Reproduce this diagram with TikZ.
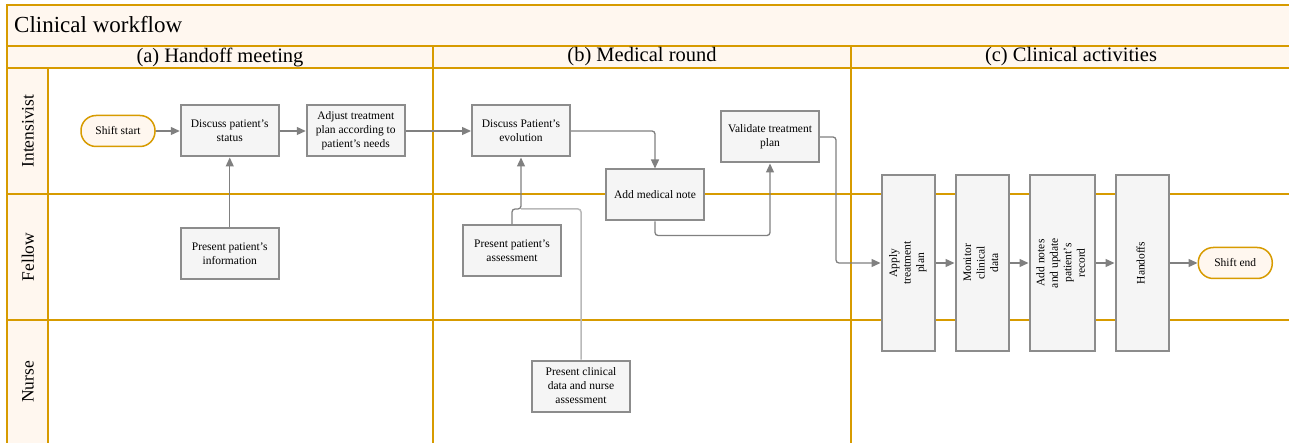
\documentclass[tikz,border=0pt]{standalone}
\usepackage{fontspec}
\setmainfont{Liberation Serif}
\usetikzlibrary{arrows.meta,positioning,calc}

\definecolor{lanegold}{RGB}{215,155,0}
\definecolor{lanefill}{RGB}{255,247,239}
\definecolor{boxfill}{RGB}{245,245,245}
\definecolor{boxline}{RGB}{140,140,140}
\definecolor{flowgray}{RGB}{128,128,128}
\definecolor{flowlight}{RGB}{185,185,185}

\newcommand{\vlabel}[1]{\rotatebox{90}{\begin{tabular}{@{}c@{}}#1\end{tabular}}}

\begin{document}
\begin{tikzpicture}[x=1pt, y=-1pt, node distance=24pt]
\tikzstyle{task} = [rectangle, draw=boxline, fill=boxfill, line width=2pt, align=center, minimum width=98pt, minimum height=51pt, inner sep=2pt, font=\fontsize{11.5}{14}\selectfont]
\tikzstyle{vtask} = [task, minimum width=53pt, minimum height=176pt, font=\fontsize{11.5}{13.5}\selectfont]
\tikzstyle{terminal} = [rectangle, rounded corners=15pt, draw=lanegold, fill=lanefill, line width=1.5pt, minimum width=74pt, minimum height=31pt, font=\fontsize{11.5}{14}\selectfont]
\tikzstyle{line} = [draw=flowgray, line width=1.3pt, -{Triangle[length=9pt,width=8pt]}, rounded corners=3pt]
\tikzstyle{lane} = [draw=lanegold, line width=2.5pt]
\tikzstyle{lanetext} = [inner sep=0pt, font=\fontsize{17.5}{20}\selectfont]
\tikzstyle{phase} = [inner sep=0pt, font=\fontsize{20.5}{22}\selectfont]

\useasboundingbox (0,0) rectangle (1289,443);

% Pool and lanes
\fill[lanefill] (7,5) rectangle (1289,68);
\fill[lanefill] (7,68) rectangle (48,445);
\foreach \y in {5,46,68,194,320} \draw[lane] (7,\y) -- (1290,\y);
\draw[lane] (7,4) -- (7,445);
\draw[lane] (48,68) -- (48,445);
\foreach \x in {433,851} \draw[lane] (\x,46) -- (\x,445);

\node[anchor=west, inner sep=0pt, font=\fontsize{23}{26}\selectfont] (title) at (14,25) {Clinical workflow};
\node[phase] (phaseA) at (220,57) {(a) Handoff meeting};
\node[phase] (phaseB) at (642,57) {(b) Medical round};
\node[phase] (phaseC) at (1071,57) {(c) Clinical activities};
\node[lanetext, rotate=90] (laneIntensivist) at (28,131) {Intensivist};
\node[lanetext, rotate=90] (laneFellow) at (28,257) {Fellow};
\node[lanetext, rotate=90] (laneNurse) at (28,382) {Nurse};

% (a) Handoff meeting
\node[terminal] (shiftStart) at (118,131) {Shift start};
\node[task, right=24pt of shiftStart] (discussStatus) {Discuss patient's\\status};
\node[task, right=26pt of discussStatus] (adjustPlan) {Adjust treatment\\plan according to\\patient's needs};
\node[task, below=70pt of discussStatus] (presentInfo) {Present patient's\\information};

% (b) Medical round
\node[task] (discussEvol) at (521,131) {Discuss Patient's\\evolution};
\node[task] (medNote) at (655,195) {Add medical note};
\node[task] (validPlan) at (770,137) {Validate treatment\\plan};
\node[task] (presentAssess) at (512,251) {Present patient's\\assessment};
\node[task] (presentNurse) at (581,386) {Present clinical\\data and nurse\\assessment};
\coordinate (merge) at (521,209);

% (c) Clinical activities
\node[vtask] (applyPlan) at (908,263) {\vlabel{Apply\\treatment\\plan}};
\node[vtask, right=19pt of applyPlan] (monitorData) {\vlabel{Monitor\\clinical\\data}};
\node[vtask, minimum width=65pt, right=19pt of monitorData] (updateRecord) {\vlabel{Add notes\\and update\\patient's\\record}};
\node[vtask, right=19pt of updateRecord] (handoffs) {\vlabel{Handoffs}};
\node[terminal, right=28pt of handoffs] (shiftEnd) {Shift end};

% Connections
\draw[line] (shiftStart) -- (discussStatus);
\draw[line] (discussStatus) -- (adjustPlan);
\draw[line] (presentInfo) -- (discussStatus);
\draw[line] (adjustPlan) -- (discussEvol);
\draw[line] (discussEvol.east) -| (medNote.north);
\draw[line] (medNote.south) -- ++(0,14) -| (validPlan.south);
\draw[draw=flowlight, line width=1.5pt, rounded corners=3pt] (presentNurse.north) |- (merge);
\draw[line] (presentAssess.north) |- (merge) -- (discussEvol.south);
\draw[line] (validPlan.east) -- ++(16,0) |- (applyPlan.west);
\draw[line] (applyPlan) -- (monitorData);
\draw[line] (monitorData) -- (updateRecord);
\draw[line] (updateRecord) -- (handoffs);
\draw[line] (handoffs) -- (shiftEnd);

\end{tikzpicture}
\end{document}
